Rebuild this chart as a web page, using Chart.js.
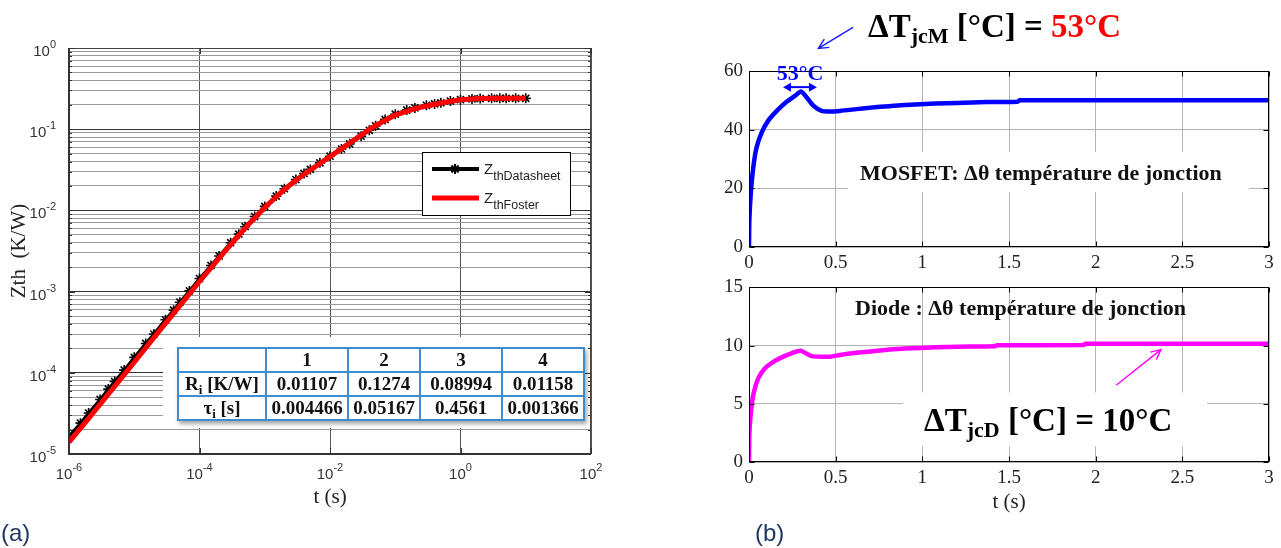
<!DOCTYPE html>
<html>
<head>
<meta charset="utf-8">
<title>Zth Foster fit and junction temperature rise</title>
<script src="https://cdn.jsdelivr.net/npm/chart.js@4.4.1/dist/chart.umd.min.js"></script>
<style>
  body { margin: 0; width: 1281px; height: 548px; background: #fff; overflow: hidden; position: relative; }
  canvas { position: absolute; }
  #zthChart { left: 0; top: 0; }
  #mosChart { left: 690px; top: 0; }
  #diodeChart { left: 690px; top: 270px; }
  #fosterTable { position: absolute; left: 177px; top: 347px; width: 406px; border-collapse: collapse; table-layout: fixed;
    background: #fff; box-shadow: 2px 3px 4px rgba(0, 0, 0, 0.35); font: bold 19px "Liberation Serif", serif; color: #111; }
  #fosterTable td { border: 2px solid #3a8dd0; height: 22px; padding: 0; text-align: center; line-height: 22px; white-space: nowrap; }
  #fosterTable sub { font-size: 13px; line-height: 0; vertical-align: -4px; }
</style>
</head>
<body>
<canvas id="zthChart" width="620" height="548"></canvas>
<canvas id="mosChart" width="591" height="280"></canvas>
<canvas id="diodeChart" width="591" height="278"></canvas>
<table id="fosterTable">
  <colgroup><col style="width:88px"><col style="width:82px"><col style="width:72px"><col style="width:82px"><col style="width:82px"></colgroup>
  <tbody></tbody>
</table>
<script>
// ---- (a) thermal impedance Zth(t), log-log ----
const tDatasheet = [1e-6, 1.5e-6, 2e-6, 3e-6, 4e-6, 5e-6, 7e-6, 1e-5, 1.5e-5, 2e-5, 3e-5, 4e-5, 5e-5, 7e-5,
  1e-4, 1.5e-4, 2e-4, 3e-4, 4e-4, 5e-4, 7e-4, 1e-3, 1.5e-3, 2e-3, 3e-3, 4e-3, 5e-3, 7e-3,
  1e-2, 1.5e-2, 2e-2, 3e-2, 4e-2, 5e-2, 7e-2, 0.1, 0.15, 0.2, 0.3, 0.4, 0.5, 0.7, 1, 1.5, 2, 3, 4, 5, 7, 10];
const zthDatasheet = [1.65e-5, 2.4e-5, 3.2e-5, 4.7e-5, 6.3e-5, 7.8e-5, 1.08e-4, 1.55e-4, 2.3e-4, 3.0e-4, 4.5e-4, 5.9e-4, 7.4e-4, 1.02e-3,
  1.45e-3, 2.1e-3, 2.75e-3, 4.0e-3, 5.1e-3, 6.3e-3, 8.4e-3, 1.12e-2, 1.5e-2, 1.85e-2, 2.4e-2, 2.85e-2, 3.2e-2, 3.85e-2,
  4.65e-2, 5.7e-2, 6.6e-2, 8.2e-2, 9.7e-2, 0.110, 0.132, 0.153, 0.172, 0.183, 0.197, 0.205, 0.211, 0.222, 0.231, 0.236, 0.238, 0.240, 0.240, 0.240, 0.240, 0.240];

const tFoster = [1e-6, 2e-6, 5e-6, 1e-5, 2e-5, 5e-5, 1e-4, 2e-4, 3e-4, 5e-4, 1e-3, 2e-3, 3e-3, 5e-3,
  1e-2, 2e-2, 3e-2, 5e-2, 0.1, 0.2, 0.3, 0.5, 1, 2, 5, 10];
const zthFoster = [1.4e-5, 2.75e-5, 6.8e-5, 1.35e-4, 2.71e-4, 6.72e-4, 1.33e-3, 2.59e-3, 3.8e-3, 6.05e-3, 1.086e-2, 1.81e-2, 2.35e-2, 3.15e-2,
  4.59e-2, 6.73e-2, 8.45e-2, 0.111, 0.149, 0.179, 0.193, 0.210, 0.230, 0.239, 0.240, 0.240];

const xDecades = [1e-6, 1e-4, 1e-2, 1, 1e2];
const xDecadeExp = ['-6', '-4', '-2', '0', '2'];
const yDecades = [1e-5, 1e-4, 1e-3, 1e-2, 1e-1, 1];
const yDecadeExp = ['-5', '-4', '-3', '-2', '-1', '0'];

// Foster network table
const fosterBranch = ['1', '2', '3', '4'];
const fosterR = ['0.01107', '0.1274', '0.08994', '0.01158'];
const fosterTau = ['0.004466', '0.05167', '0.4561', '0.001366'];

// ---- (b) junction temperature rise ----
const tMosfet = [0, 0.002, 0.01, 0.025, 0.044, 0.073, 0.11, 0.16, 0.217, 0.265, 0.30, 0.333, 0.371, 0.419, 0.467, 0.525,
  0.62, 0.717, 0.81, 0.9, 1.076, 1.2, 1.37, 1.55, 1.56, 3];
const dTMosfet = [0, 9, 18, 27.3, 34, 39, 43, 46.4, 49.5, 51.5, 53, 51, 48.2, 46.4, 46.2, 46.4,
  47, 47.6, 48, 48.4, 48.9, 49.1, 49.4, 49.5, 50, 50];

const tDiode = [0, 0.002, 0.01, 0.025, 0.054, 0.092, 0.14, 0.198, 0.256, 0.30, 0.333, 0.362, 0.41, 0.467, 0.525,
  0.62, 0.717, 0.81, 0.9, 1.076, 1.2, 1.42, 1.43, 1.93, 1.94, 3];
const dTDiode = [0, 2.4, 4.1, 5.8, 7.2, 8.05, 8.6, 9.05, 9.4, 9.55, 9.3, 9.1, 9.05, 9.05, 9.2,
  9.38, 9.52, 9.66, 9.75, 9.85, 9.9, 9.95, 10.02, 10.05, 10.15, 10.15];

const SERIF = '"Liberation Serif", "Times New Roman", serif';
const SANS = '"Liberation Sans", Arial, sans-serif';

// y grid of panel (a): 1..9 x 10^n
const yGridValues = [];
yDecades.forEach((d, i) => {
  if (i === yDecades.length - 1) { yGridValues.push(d); return; }
  for (let k = 1; k <= 9; k++) yGridValues.push(k * d);
});
const isDecade = v => Math.abs(Math.log10(v) - Math.round(Math.log10(v))) < 1e-6;

// draws pieces of text one after the other: [text, font, colour, dy]
function richText(ctx, x, y, parts, align) {
  ctx.save();
  ctx.textBaseline = 'alphabetic';
  ctx.textAlign = 'left';
  let w = 0;
  parts.forEach(p => { ctx.font = p[1]; w += ctx.measureText(p[0]).width; });
  if (align === 'center') x -= w / 2;
  if (align === 'right') x -= w;
  parts.forEach(p => {
    ctx.font = p[1];
    ctx.fillStyle = p[2];
    ctx.fillText(p[0], x, y + (p[3] || 0));
    x += ctx.measureText(p[0]).width;
  });
  ctx.restore();
}

function openArrow(ctx, x0, y0, x1, y1, color, width) {
  const ang = Math.atan2(y1 - y0, x1 - x0), L = 11, spread = 0.45;
  ctx.save();
  ctx.strokeStyle = color; ctx.lineWidth = width;
  ctx.beginPath();
  ctx.moveTo(x0, y0); ctx.lineTo(x1, y1);
  ctx.moveTo(x1 - L * Math.cos(ang - spread), y1 - L * Math.sin(ang - spread));
  ctx.lineTo(x1, y1);
  ctx.lineTo(x1 - L * Math.cos(ang + spread), y1 - L * Math.sin(ang + spread));
  ctx.stroke();
  ctx.restore();
}

function doubleArrow(ctx, x0, x1, y, color) {
  ctx.save();
  ctx.strokeStyle = color; ctx.fillStyle = color; ctx.lineWidth = 2;
  ctx.beginPath(); ctx.moveTo(x0 + 4, y); ctx.lineTo(x1 - 4, y); ctx.stroke();
  ctx.beginPath(); ctx.moveTo(x0, y); ctx.lineTo(x0 + 8, y - 4.5); ctx.lineTo(x0 + 8, y + 4.5); ctx.closePath(); ctx.fill();
  ctx.beginPath(); ctx.moveTo(x1, y); ctx.lineTo(x1 - 8, y - 4.5); ctx.lineTo(x1 - 8, y + 4.5); ctx.closePath(); ctx.fill();
  ctx.restore();
}

function asterisk(ctx, x, y, r) {
  ctx.beginPath();
  for (let k = 0; k < 4; k++) {
    const a = k * Math.PI / 4;
    ctx.moveTo(x - r * Math.cos(a), y - r * Math.sin(a));
    ctx.lineTo(x + r * Math.cos(a), y + r * Math.sin(a));
  }
  ctx.stroke();
}

// ---------- panel (a) ----------
const zthDecor = {
  id: 'zthDecor',
  beforeDatasetsDraw(chart) {
    // white patch the table sits on
    const ctx = chart.ctx, a = chart.chartArea;
    ctx.save();
    ctx.fillStyle = '#fff';
    ctx.fillRect(163, 337, a.right - 163, 91);
    ctx.restore();
  },
  afterDraw(chart) {
    const ctx = chart.ctx, a = chart.chartArea, xs = chart.scales.x, ys = chart.scales.y;
    ctx.save();
    // axes box
    ctx.strokeStyle = '#444'; ctx.lineWidth = 1;
    ctx.strokeRect(a.left + 0.5, a.top + 0.5, a.right - a.left - 1, a.bottom - a.top - 1);
    ctx.strokeStyle = '#333'; ctx.lineWidth = 2;
    ctx.beginPath(); ctx.moveTo(a.left, a.top); ctx.lineTo(a.left, a.bottom); ctx.lineTo(a.right, a.bottom); ctx.stroke();
    // inward tick marks
    ctx.lineWidth = 1; ctx.strokeStyle = '#333';
    ctx.beginPath();
    ys.ticks.forEach(t => {
      const y = Math.round(ys.getPixelForValue(t.value)) + 0.5, len = isDecade(t.value) ? 6 : 3;
      ctx.moveTo(a.left, y); ctx.lineTo(a.left + len, y);
      ctx.moveTo(a.right, y); ctx.lineTo(a.right - len, y);
    });
    xs.ticks.forEach(t => {
      const x = Math.round(xs.getPixelForValue(t.value)) + 0.5;
      ctx.moveTo(x, a.bottom); ctx.lineTo(x, a.bottom - 6);
      ctx.moveTo(x, a.top); ctx.lineTo(x, a.top + 6);
    });
    ctx.stroke();
    ctx.restore();

    // tick labels 10^n
    const big = '15px ' + SANS, small = '11px ' + SANS, col = '#333';
    xDecades.forEach((v, i) => {
      richText(ctx, xs.getPixelForValue(v), a.bottom + 25, [['10', big, col, 0], [xDecadeExp[i], small, col, -8]], 'center');
    });
    yDecades.forEach((v, i) => {
      const y = ys.getPixelForValue(v);
      richText(ctx, a.left - 13, y + 8, [['10', big, col, 0], [yDecadeExp[i], small, col, -8]], 'right');
    });

    // axis titles
    ctx.save();
    ctx.fillStyle = '#222';
    ctx.font = '21px ' + SERIF;
    ctx.textAlign = 'center'; ctx.textBaseline = 'middle';
    ctx.fillText('t (s)', (a.left + a.right) / 2, a.bottom + 43);
    ctx.translate(19, (a.top + a.bottom) / 2);
    ctx.rotate(-Math.PI / 2);
    ctx.fillText('Zth  (K/W)', 0, 0);
    ctx.restore();

    // legend
    const lx = a.right - 169, ly = a.top + 104;
    ctx.save();
    ctx.fillStyle = '#fff'; ctx.fillRect(lx, ly, 149, 64);
    ctx.strokeStyle = '#000'; ctx.lineWidth = 1; ctx.strokeRect(lx + 0.5, ly + 0.5, 148, 63);
    ctx.strokeStyle = '#000'; ctx.lineWidth = 4;
    ctx.beginPath(); ctx.moveTo(lx + 10, ly + 17); ctx.lineTo(lx + 57, ly + 17); ctx.stroke();
    ctx.lineWidth = 2; asterisk(ctx, lx + 33, ly + 17, 5);
    ctx.strokeStyle = '#ff0000'; ctx.lineWidth = 5;
    ctx.beginPath(); ctx.moveTo(lx + 10, ly + 46); ctx.lineTo(lx + 57, ly + 46); ctx.stroke();
    ctx.restore();
    richText(ctx, lx + 62, ly + 22, [['Z', '15px ' + SANS, '#222', 0], ['thDatasheet', '12.5px ' + SANS, '#222', 6]]);
    richText(ctx, lx + 62, ly + 51, [['Z', '15px ' + SANS, '#222', 0], ['thFoster', '12.5px ' + SANS, '#222', 6]]);

    // panel letter
    richText(ctx, 1, 541, [['(a)', '24px ' + SANS, '#1f3864', 0]]);
  }
};

new Chart(document.getElementById('zthChart'), {
  type: 'line',
  data: {
    datasets: [{
      label: 'ZthFoster',
      data: tFoster.map((t, i) => ({ x: t, y: zthFoster[i] })),
      borderColor: '#ff0000',
      borderWidth: 5,
      pointRadius: 0,
      tension: 0,
      order: 0
    }, {
      label: 'ZthDatasheet',
      data: tDatasheet.map((t, i) => ({ x: t, y: zthDatasheet[i] })),
      borderColor: '#000',
      borderWidth: 3,
      pointStyle: 'star',
      pointRadius: 5,
      pointBorderWidth: 1.6,
      pointBorderColor: '#000',
      pointBackgroundColor: '#000',
      tension: 0,
      order: 1
    }]
  },
  options: {
    responsive: false,
    animation: false,
    events: [],
    layout: { padding: { top: 48, right: 29, left: 0, bottom: 0 } },
    plugins: { legend: { display: false }, tooltip: { enabled: false } },
    scales: {
      x: {
        type: 'logarithmic', min: 1e-6, max: 1e2,
        afterBuildTicks: s => { s.ticks = xDecades.map(v => ({ value: v })); },
        afterFit: s => { s.height = 94; },
        ticks: { display: false },
        grid: { color: '#555', lineWidth: 1, drawTicks: false },
        border: { display: false }
      },
      y: {
        type: 'logarithmic', min: 1e-5, max: 1,
        afterBuildTicks: s => { s.ticks = yGridValues.map(v => ({ value: v })); },
        afterFit: s => { s.width = 69; },
        ticks: { display: false },
        grid: {
          color: c => (c.tick && isDecade(c.tick.value)) ? '#333' : '#999',
          lineWidth: 1,
          drawTicks: false
        },
        border: { display: false }
      }
    }
  },
  plugins: [zthDecor]
});

// Foster table
const row = (head, cells) => '<tr><td>' + head + '</td>' + cells.map(c => '<td>' + c + '</td>').join('') + '</tr>';
document.querySelector('#fosterTable tbody').innerHTML =
  row('', fosterBranch) + row('R<sub>i</sub> [K/W]', fosterR) + row('&tau;<sub>i</sub> [s]', fosterTau);

// ---------- panel (b) ----------
function drawFrame(chart) {
  const ctx = chart.ctx, a = chart.chartArea, xs = chart.scales.x, ys = chart.scales.y;
  ctx.save();
  ctx.strokeStyle = '#000'; ctx.lineWidth = 1;
  const L = Math.round(a.left) + 0.5, T = Math.round(a.top) + 0.5, R = Math.round(a.right) - 0.5, B = Math.round(a.bottom) - 0.5;
  ctx.strokeRect(L, T, R - L, B - T);
  ctx.beginPath();
  xs.ticks.forEach(t => {
    const x = Math.round(xs.getPixelForValue(t.value)) + 0.5;
    ctx.moveTo(x, B); ctx.lineTo(x, B - 5);
    ctx.moveTo(x, T); ctx.lineTo(x, T + 5);
  });
  ys.ticks.forEach(t => {
    const y = Math.round(ys.getPixelForValue(t.value)) + 0.5;
    ctx.moveTo(L, y); ctx.lineTo(L + 5, y);
    ctx.moveTo(R, y); ctx.lineTo(R - 5, y);
  });
  ctx.stroke();
  ctx.restore();
}

function whiteBox(chart, dx, dy, w, h) {
  const ctx = chart.ctx, a = chart.chartArea;
  ctx.save(); ctx.fillStyle = '#fff'; ctx.fillRect(a.left + dx, a.top + dy, w, h); ctx.restore();
}

const mosDecor = {
  id: 'mosDecor',
  beforeDatasetsDraw(chart) { whiteBox(chart, 99, 81, 401, 40); },
  afterDraw(chart) {
    const ctx = chart.ctx, a = chart.chartArea, xs = chart.scales.x, ys = chart.scales.y;
    drawFrame(chart);
    const B33 = 'bold 33px ' + SERIF, B22 = 'bold 22px ' + SERIF;
    richText(ctx, a.left + 119, a.top - 34, [['\u0394T', B33, '#000', 0], ['jcM', B22, '#000', 6],
      [' [\u00b0C] = ', B33, '#000', 0], ['53\u00b0C', B33, '#ff0000', 0]]);
    openArrow(ctx, xs.getPixelForValue(0.60), ys.getPixelForValue(74.9), xs.getPixelForValue(0.40), ys.getPixelForValue(67.7), '#1a1aff', 1.4);
    doubleArrow(ctx, xs.getPixelForValue(0.196), xs.getPixelForValue(0.392), ys.getPixelForValue(54.5), '#0000ff');
    richText(ctx, xs.getPixelForValue(0.295), ys.getPixelForValue(57), [['53\u00b0C', B22, '#0000ff', 0]], 'center');
    richText(ctx, a.left + 111, a.top + 109, [['MOSFET: \u0394\u03b8 temp\u00e9rature de jonction', B22, '#111', 0]]);
  }
};

const diodeDecor = {
  id: 'diodeDecor',
  beforeDatasetsDraw(chart) { whiteBox(chart, 154, 105, 304, 54); },
  afterDraw(chart) {
    const ctx = chart.ctx, a = chart.chartArea, xs = chart.scales.x, ys = chart.scales.y;
    drawFrame(chart);
    const B33 = 'bold 33px ' + SERIF, B22 = 'bold 22px ' + SERIF;
    richText(ctx, a.left + 106, a.top + 28, [['Diode : \u0394\u03b8 temp\u00e9rature de jonction', B22, '#111', 0]]);
    richText(ctx, a.left + 175, a.top + 144, [['\u0394T', B33, '#000', 0], ['jcD', B22, '#000', 6],
      [' [\u00b0C] = 10\u00b0C', B33, '#000', 0]]);
    openArrow(ctx, xs.getPixelForValue(2.118), ys.getPixelForValue(6.6), xs.getPixelForValue(2.377), ys.getPixelForValue(9.65), '#ff00ff', 1.4);
    ctx.save();
    ctx.fillStyle = '#222'; ctx.font = '21px ' + SERIF;
    ctx.textAlign = 'center'; ctx.textBaseline = 'middle';
    ctx.fillText('t (s)', (a.left + a.right) / 2, a.bottom + 40);
    ctx.restore();
    richText(ctx, 65, 271, [['(b)', '24px ' + SANS, '#1f3864', 0]]);
  }
};

function tempOptions(yMax, yStep, padTop, xHeight) {
  return {
    responsive: false,
    animation: false,
    events: [],
    layout: { padding: { top: padTop, right: 12, left: 0, bottom: 0 } },
    plugins: { legend: { display: false }, tooltip: { enabled: false } },
    scales: {
      x: {
        type: 'linear', min: 0, max: 3,
        afterFit: s => { s.height = xHeight; },
        ticks: { stepSize: 0.5, padding: 5, color: '#222', font: { family: SERIF, size: 19 },
          callback: v => String(Math.round(v * 10) / 10) },
        grid: { color: '#b4b4b4', drawTicks: false },
        border: { display: false }
      },
      y: {
        min: 0, max: yMax,
        afterFit: s => { s.width = 59; },
        ticks: { stepSize: yStep, padding: 6, color: '#222', font: { family: SERIF, size: 19 } },
        grid: { color: '#b4b4b4', drawTicks: false },
        border: { display: false }
      }
    }
  };
}

new Chart(document.getElementById('mosChart'), {
  type: 'line',
  data: {
    datasets: [{
      label: 'MOSFET',
      data: tMosfet.map((t, i) => ({ x: t, y: dTMosfet[i] })),
      borderColor: '#0000ff',
      borderWidth: 4.5,
      pointRadius: 0,
      tension: 0.2
    }]
  },
  options: tempOptions(60, 20, 71, 33),
  plugins: [mosDecor]
});

new Chart(document.getElementById('diodeChart'), {
  type: 'line',
  data: {
    datasets: [{
      label: 'Diode',
      data: tDiode.map((t, i) => ({ x: t, y: dTDiode[i] })),
      borderColor: '#ff00ff',
      borderWidth: 4.5,
      pointRadius: 0,
      tension: 0.2
    }]
  },
  options: tempOptions(15, 5, 15, 86),
  plugins: [diodeDecor]
});
</script>
</body>
</html>
